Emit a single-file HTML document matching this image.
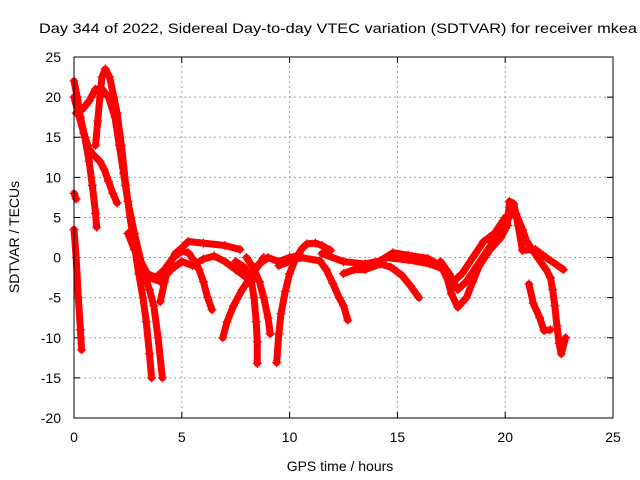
<!DOCTYPE html>
<html><head><meta charset="utf-8"><style>
html,body{margin:0;padding:0;background:#fff;}
svg{display:block;font-family:"Liberation Sans",Arial,sans-serif;}
</style></head><body>
<svg id="chart" width="640" height="480" viewBox="0 0 640 480" xmlns="http://www.w3.org/2000/svg">
<rect width="640" height="480" fill="#fff"/>
<text x="338" y="33" font-size="14" text-anchor="middle" textLength="598" lengthAdjust="spacingAndGlyphs">Day 344 of 2022, Sidereal Day-to-day VTEC variation (SDTVAR) for receiver mkea</text>
<g id="grid"></g>
<g id="ticks"></g>
<g id="series"></g>
<rect x="74" y="57" width="539" height="361" fill="none" stroke="#000" stroke-width="1"/>
<text x="340" y="471" font-size="14" text-anchor="middle">GPS time / hours</text>
<text x="0" y="0" font-size="14" text-anchor="middle" transform="translate(19,237) rotate(-90)">SDTVAR / TECUs</text>
</svg>
<script>
const xTicks=[0,5,10,15,20,25];
const yTicks=[-20,-15,-10,-5,0,5,10,15,20,25];
const t1=[[0,3.5],[0.1,0],[0.2,-5],[0.3,-9],[0.35,-11.5]];
const t2=[[0,8],[0.1,7.3]];
const t3=[[0,22],[0.15,20],[0.3,17.5],[0.5,15],[0.7,12],[0.85,9],[1.0,5.5],[1.05,3.8]];
const t4=[[0,20],[0.2,18],[0.45,15.5],[0.7,13.5],[0.9,12.8],[1.2,12],[1.4,11],[1.6,9.5],[1.8,8],[2.0,6.8]];
const t5=[[1.0,14],[1.1,17],[1.2,20],[1.3,22.5],[1.45,23.5],[1.65,22.5],[1.85,20],[2.0,18],[2.2,14],[2.4,9],[2.6,5],[2.8,1.5],[3.0,-2],[3.2,-5],[3.35,-8],[3.5,-12],[3.6,-15]];
const t6=[[0.1,18],[0.4,18.5],[0.7,19.5],[1.0,21],[1.3,21],[1.6,20],[1.9,17.5],[2.1,14],[2.3,10.5],[2.5,7],[2.8,3],[3.2,-1.5],[3.5,-4],[3.7,-6],[3.9,-10],[4.1,-15]];
const t7=[[2.5,3],[2.8,1],[3.0,0],[3.4,-2],[3.8,-2.5],[4.2,-1.5],[4.6,0],[5.0,0.8],[5.3,0.6],[5.6,-0.5],[5.8,-1.5],[6.0,-3],[6.2,-5],[6.4,-6.5]];
const t8=[[4.0,-5.5],[4.2,-3],[4.4,-1],[4.7,0.5],[5.0,1.2],[5.3,2],[6,1.8],[7,1.5],[7.7,1]];
const t9=[[3.0,-1],[3.5,-2.5],[4.0,-3],[4.5,-1.5],[5.0,-0.5],[5.5,-1],[6.0,-0.2],[6.5,0.2],[7,-0.5],[7.5,-1.5],[8.0,-2.5],[8.5,-1],[9.0,0],[9.5,-0.5],[10,0],[10.5,0.3]];
const t10=[[6.9,-10],[7.1,-8],[7.4,-6],[7.8,-4],[8.3,-2],[8.8,0]];
const t11=[[7.5,-0.5],[7.9,-1.2],[8.2,-2.5],[8.35,-5],[8.45,-8],[8.5,-10.5],[8.5,-13.2]];
const t12=[[9.4,-13.1],[9.5,-9.5],[9.6,-7],[9.8,-4.2],[10.0,-2],[10.3,0],[10.6,1.2],[10.8,1.7],[11.2,1.8],[11.5,1.5],[11.9,0.9]];
const t13=[[8.0,0],[8.3,-1.2],[8.6,-3],[8.8,-5],[9.0,-7.5],[9.1,-9.5]];
const t14=[[12.7,-7.8],[12.5,-6],[12.3,-5],[12.0,-3.2],[11.7,-1.5],[11.4,-0.4],[10.5,0],[9.5,-1]];
const t15=[[11.5,0.5],[12.5,-0.5],[13.5,-0.8],[14.2,-0.4],[14.8,0.6],[15.5,0.3],[16.4,-0.1],[17.0,-1],[17.3,-2.5],[17.5,-4.5],[17.8,-6.2],[18.2,-5],[18.5,-3],[18.8,-1],[19.3,1],[19.8,2.5],[20.1,4],[20.2,7],[20.4,6.7],[20.6,4],[20.8,0.9],[21.4,1],[21.9,0],[22.7,-1.5]];
const t16=[[12.5,-2],[13.0,-1.5],[13.5,-1.5],[14.2,-0.8],[14.7,-1.2],[15.2,-2.2],[15.6,-3.5],[16.0,-5]];
const t17=[[14.5,0],[15.5,-0.3],[16.5,-0.8],[17.2,-1.5],[17.6,-3],[18.0,-2],[18.5,0],[19.0,2],[19.5,3],[20.0,5],[20.5,5.5],[20.8,3.5],[21.0,2],[21.5,0],[21.9,-1.5],[22.1,-2.5],[22.2,-4],[22.3,-6],[22.4,-8.5],[22.5,-10.7],[22.6,-12],[22.8,-10]];
const t18=[[21.1,-3.3],[21.3,-5.7],[21.6,-7.5],[21.8,-9.1],[22.1,-9]];
const t19=[[17.0,-0.5],[17.4,-2],[17.8,-4],[18.2,-3],[18.7,-1],[19.2,1],[19.8,3.5],[20.3,5.5]];
const traces=[t1,t2,t3,t4,t5,t6,t7,t8,t9,t10,t11,t12,t13,t14,t15,t16,t17,t18,t19];
const NS='http://www.w3.org/2000/svg';
const X0=74,X1=613,Y0=418,Y1=57;
function xs(h){return X0+(h-0)/(25-0)*(X1-X0);}
function ys(v){return Y0-(v+20)/(45)*(Y0-Y1);}
function mk(tag,attrs,parent){const e=document.createElementNS(NS,tag);for(const k in attrs)e.setAttribute(k,attrs[k]);parent.appendChild(e);return e;}
const grid=document.getElementById('grid'),ticks=document.getElementById('ticks'),series=document.getElementById('series');
xTicks.forEach(t=>{
  const x=xs(t);
  if(t>0&&t<25){const g=mk('line',{x1:x,y1:Y0,x2:x,y2:Y1,stroke:'#a0a0a0','stroke-dasharray':'2,3'},grid);
    
    }
  const tk=mk('path',{d:`M${x},${Y0}v-6M${x},${Y1}v6`,stroke:'#000'},ticks);
  
  
  const l=mk('text',{x:x,y:442,'font-size':14,'text-anchor':'middle'},ticks);l.textContent=t;
  
  
});
yTicks.forEach(t=>{
  const y=ys(t);
  if(t>-20&&t<25){const g=mk('line',{x1:X0,y1:y,x2:X1,y2:y,stroke:'#a0a0a0','stroke-dasharray':'2,3'},grid);
    
    }
  const tk=mk('path',{d:`M${X0},${y}h6M${X1},${y}h-6`,stroke:'#000'},ticks);
  
  
  const l=mk('text',{x:61,y:y+5,'font-size':14,'text-anchor':'end'},ticks);l.textContent=t;
  
  
});
traces.forEach((tr,i)=>{
  const pts=tr.map(p=>xs(p[0])+','+ys(p[1])).join(' ');
  const pl=mk('polyline',{points:pts,fill:'none',stroke:'#ff0000','stroke-width':7,'stroke-linejoin':'round','stroke-linecap':'round'},series);
  
  
  tr.forEach(p=>{
    const x=xs(p[0]),y=ys(p[1]);
    const m=mk('path',{d:`M${x-4.5},${y}h9M${x},${y-4.5}v9`,stroke:'#ff0000','stroke-width':1.2},series);
    
    
  });
});
</script>
</body></html>
